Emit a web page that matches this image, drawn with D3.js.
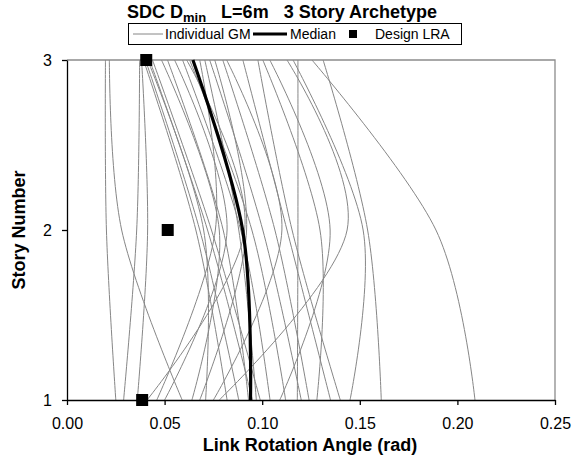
<!DOCTYPE html>
<html><head><meta charset="utf-8">
<script src="https://cdn.jsdelivr.net/npm/d3@7"></script>
<style>body{margin:0;background:#fff;} text{font-family:"Liberation Sans",Arial,sans-serif;}</style>
</head><body>
<svg id="c" width="572" height="461"></svg>
<script>
const stories = [1, 2, 3];
const xTicks = [0, 0.05, 0.10, 0.15, 0.20, 0.25];
const yTicks = [1, 2, 3];
// individual ground motions: LRA at stories 1, 2, 3
const gmStory1 = [0.025,0.059,0.029,0.036,0.082,0.088,0.071,0.095,0.099,0.064,0.093,0.050,0.104,0.041,0.112,0.046,0.097,0.120,0.068,0.124,0.075,0.135,0.140,0.128,0.109,0.078,0.145,0.118,0.209,0.161];
const gmStory2 = [0.0202,0.028,0.0357,0.0413,0.066,0.068,0.070,0.072,0.074,0.078,0.080,0.082,0.089,0.091,0.0947,0.076,0.088,0.1003,0.092,0.1065,0.1101,0.1127,0.1153,0.1296,0.1348,0.1435,0.1517,0.1183,0.189,0.154];
const gmStory3 = [0.0197,0.0217,0.0372,0.0382,0.0392,0.0402,0.0413,0.0423,0.0438,0.0484,0.0515,0.0551,0.0592,0.0613,0.0628,0.0680,0.0706,0.0731,0.0757,0.0798,0.0818,0.0901,0.0978,0.1003,0.1039,0.1127,0.1158,0.1183,0.1255,0.1312];
const medianLRA = [0.094, 0.090, 0.0645];
const designLRA = [0.0385, 0.0516, 0.0406];

const svg = d3.select("#c");
const L = 67, R = 555, T = 60, B = 400;
const x = d3.scaleLinear().domain([0, 0.25]).range([L, R]);
const y = d3.scaleLinear().domain([1, 3]).range([B, T]);

// frame (top/right gray)
svg.append("path").attr("d", `M${L},${T}H${R}V${B}`).attr("fill","none").attr("stroke","#8c8c8c").attr("stroke-width",1.3);

const line = d3.line().x(d => x(d[0])).y(d => y(d[1])).curve(d3.curveCatmullRom.alpha(0));
const gm = gmStory1.map((v, i) => [[v,1],[gmStory2[i],2],[gmStory3[i],3]]);
svg.append("g").selectAll("path").data(gm).join("path")
  .attr("d", line).attr("fill","none").attr("stroke","#868686").attr("stroke-width",1);

svg.append("path").datum(stories.map((s,i)=>[medianLRA[i], s]))
  .attr("d", line).attr("fill","none").attr("stroke","#000").attr("stroke-width",3.2);

// axes
const xAxis = svg.append("g").attr("transform",`translate(0,${B})`)
  .call(d3.axisBottom(x).tickValues(xTicks).tickFormat(d3.format(".2f")).tickSize(5).tickSizeOuter(0));
const yAxis = svg.append("g").attr("transform",`translate(${L},0)`)
  .call(d3.axisLeft(y).tickValues(yTicks).tickFormat(d3.format("d")).tickSize(5).tickSizeOuter(0));
[xAxis, yAxis].forEach(a => {
  a.select(".domain").attr("stroke","#000").attr("stroke-width",1.3);
  a.selectAll(".tick line").attr("stroke","#000").attr("stroke-width",1.3);
  a.selectAll("text").attr("font-size",16).attr("fill","#000").attr("font-family","Liberation Sans, Arial, sans-serif");
});
xAxis.selectAll("text").attr("dy","1.3em");
yAxis.selectAll("text").attr("x",-15);

// design markers
svg.append("g").selectAll("rect").data(stories.map((s,i)=>[designLRA[i], s])).join("rect")
  .attr("x", d => x(d[0]) - 6).attr("y", d => y(d[1]) - 6).attr("width",12).attr("height",12).attr("fill","#000");

// axis titles
svg.append("text").attr("x", 310).attr("y", 451).attr("text-anchor","middle")
  .attr("font-size",18).attr("font-weight","bold").text("Link Rotation Angle (rad)");
svg.append("text").attr("transform","translate(25,230) rotate(-90)").attr("text-anchor","middle")
  .attr("font-size",18).attr("font-weight","bold").text("Story Number");

// title
const title = svg.append("text").attr("x", 282).attr("y", 18).attr("text-anchor","middle")
  .attr("font-size",18).attr("font-weight","bold");
title.append("tspan").text("SDC D");
title.append("tspan").attr("font-size",13).attr("dy",4).text("min");
title.append("tspan").attr("dy",-4).text("\u00a0\u00a0\u00a0L=6m\u00a0\u00a0\u00a03 Story Archetype");

// legend
const lg = svg.append("g");
lg.append("rect").attr("x",128.5).attr("y",23.5).attr("width",333).attr("height",21).attr("fill","#fff").attr("stroke","#000").attr("stroke-width",1);
lg.append("line").attr("x1",133).attr("x2",163).attr("y1",34).attr("y2",34).attr("stroke","#868686").attr("stroke-width",1);
lg.append("text").attr("x",165).attr("y",39).attr("font-size",14).text("Individual GM");
lg.append("line").attr("x1",253).attr("x2",287).attr("y1",34).attr("y2",34).attr("stroke","#000").attr("stroke-width",3);
lg.append("text").attr("x",290).attr("y",39).attr("font-size",14).text("Median");
lg.append("rect").attr("x",349).attr("y",30).attr("width",8).attr("height",8).attr("fill","#000");
lg.append("text").attr("x",375).attr("y",39).attr("font-size",14).text("Design LRA");
</script>
</body></html>
